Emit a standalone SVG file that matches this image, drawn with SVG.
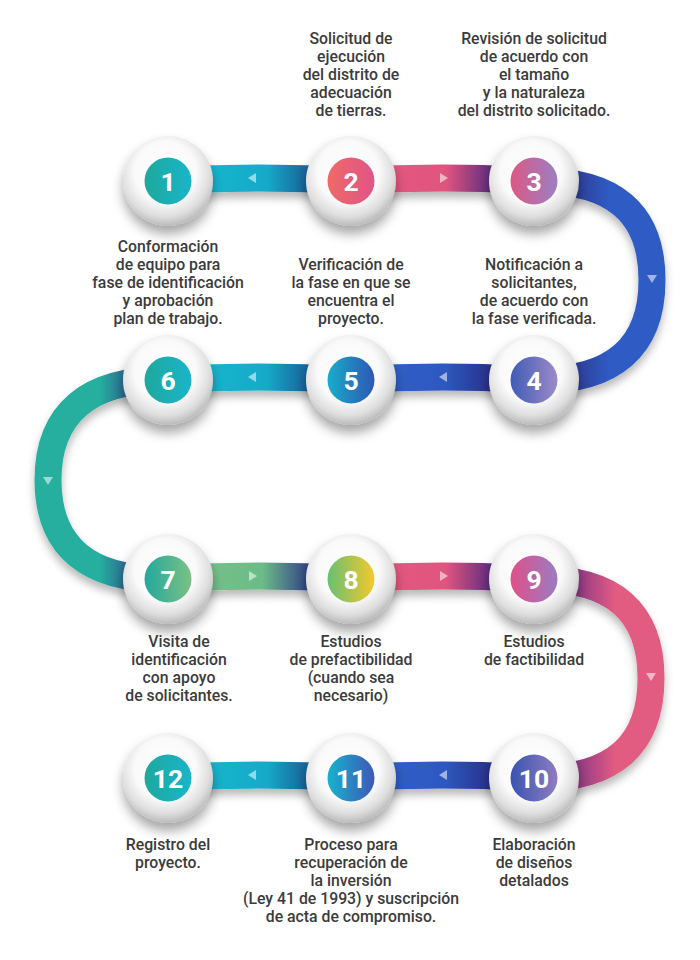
<svg xmlns="http://www.w3.org/2000/svg" width="700" height="960" viewBox="0 0 700 960">
<style>
  .lbl { font-family: Roboto, "Liberation Sans", sans-serif; font-weight: 500; font-size: 15.8px; fill: #3b3b3b; text-anchor: middle; }
  .num { font-family: Roboto, "Liberation Sans", sans-serif; font-weight: 700; font-size: 26.5px; fill: #ffffff; text-anchor: middle; }
  .band { fill: none; stroke-width: 27; filter: url(#bandShadow); }
  .sphere { fill: url(#sphereGrad); filter: url(#sphereShadow); }
  .arr { fill: #ffffff; fill-opacity: 0.55; }
</style>
<defs>
  <filter id="bandShadow" filterUnits="userSpaceOnUse" x="0" y="0" width="700" height="960">
    <feDropShadow dx="0" dy="6" stdDeviation="4" flood-color="#000" flood-opacity="0.28"/>
  </filter>
  <filter id="sphereShadow" x="-40%" y="-40%" width="180%" height="190%">
    <feDropShadow dx="0" dy="8" stdDeviation="6" flood-color="#000" flood-opacity="0.35"/>
  </filter>
  <radialGradient id="sphereGrad" cx="0.47" cy="0.4" r="0.62">
    <stop offset="0" stop-color="#ffffff"/>
    <stop offset="0.55" stop-color="#fafafa"/>
    <stop offset="0.8" stop-color="#dedede"/>
    <stop offset="1" stop-color="#b4b4b4"/>
  </radialGradient>
  <linearGradient id="bCyanA" gradientUnits="userSpaceOnUse" x1="213" y1="0" x2="312" y2="0">
    <stop offset="0" stop-color="#17b4cc"/><stop offset="0.55" stop-color="#14a9c9"/><stop offset="1" stop-color="#1b5a93"/>
  </linearGradient>
  <linearGradient id="bPinkA" gradientUnits="userSpaceOnUse" x1="396" y1="0" x2="495" y2="0">
    <stop offset="0" stop-color="#e3577f"/><stop offset="0.5" stop-color="#e0557f"/><stop offset="1" stop-color="#55297f"/>
  </linearGradient>
  <linearGradient id="bBlueA" gradientUnits="userSpaceOnUse" x1="396" y1="0" x2="495" y2="0">
    <stop offset="0" stop-color="#2f5ec6"/><stop offset="0.5" stop-color="#2d58c0"/><stop offset="1" stop-color="#2b2d84"/>
  </linearGradient>
  <linearGradient id="bGreenA" gradientUnits="userSpaceOnUse" x1="213" y1="0" x2="312" y2="0">
    <stop offset="0" stop-color="#74c08a"/><stop offset="0.5" stop-color="#6cbb88"/><stop offset="1" stop-color="#2e3a86"/>
  </linearGradient>
  <linearGradient id="cBlue" gradientUnits="userSpaceOnUse" x1="560" y1="0" x2="610" y2="0">
    <stop offset="0" stop-color="#2c3187"/><stop offset="1" stop-color="#2e5cc4"/>
  </linearGradient>
  <linearGradient id="cTeal" gradientUnits="userSpaceOnUse" x1="145" y1="0" x2="100" y2="0">
    <stop offset="0" stop-color="#2e3b8a"/><stop offset="1" stop-color="#27ae9f"/>
  </linearGradient>
  <linearGradient id="cPink" gradientUnits="userSpaceOnUse" x1="560" y1="0" x2="615" y2="0">
    <stop offset="0" stop-color="#6a2b86"/><stop offset="1" stop-color="#e25b82"/>
  </linearGradient>
  <linearGradient id="n1" x1="0" y1="0" x2="1" y2="0"><stop offset="0" stop-color="#1ea89c"/><stop offset="1" stop-color="#1ab5ca"/></linearGradient>
  <linearGradient id="n2" x1="0" y1="0" x2="1" y2="0"><stop offset="0" stop-color="#ee6a66"/><stop offset="1" stop-color="#e05488"/></linearGradient>
  <linearGradient id="n3" x1="0" y1="0" x2="1" y2="0"><stop offset="0" stop-color="#dc5884"/><stop offset="1" stop-color="#9a80c4"/></linearGradient>
  <linearGradient id="n4" x1="0" y1="0" x2="1" y2="0"><stop offset="0" stop-color="#3f5cb6"/><stop offset="1" stop-color="#9c8ac8"/></linearGradient>
  <linearGradient id="n5" x1="0" y1="0" x2="1" y2="0"><stop offset="0" stop-color="#19acc9"/><stop offset="1" stop-color="#2f56b6"/></linearGradient>
  <linearGradient id="n7" x1="0" y1="0" x2="1" y2="0"><stop offset="0" stop-color="#22a89e"/><stop offset="1" stop-color="#7cc183"/></linearGradient>
  <linearGradient id="n8" x1="0" y1="0" x2="1" y2="0"><stop offset="0" stop-color="#68bf72"/><stop offset="1" stop-color="#f3c92c"/></linearGradient>
  <linearGradient id="n9" x1="0" y1="0" x2="1" y2="0"><stop offset="0" stop-color="#e0508a"/><stop offset="1" stop-color="#9a7cc2"/></linearGradient>
  <linearGradient id="n10" x1="0" y1="0" x2="1" y2="0"><stop offset="0" stop-color="#3a54b0"/><stop offset="1" stop-color="#8e7cc2"/></linearGradient>
  <linearGradient id="n11" x1="0" y1="0" x2="1" y2="0"><stop offset="0" stop-color="#18b2cd"/><stop offset="1" stop-color="#3e58b6"/></linearGradient>
</defs>

<rect width="700" height="960" fill="#ffffff"/>

<g id="connectors">
  <path class="band" stroke="url(#bCyanA)" d="M168,181 Q259.5,175 351,181"/>
  <path class="band" stroke="url(#bPinkA)" d="M351,181 Q442.5,175 534,181"/>
  <path class="band" stroke="url(#cBlue)" d="M540,181 C612,181 652,212 652,280 C652,348 612,380 540,380"/>
  <path class="band" stroke="url(#bBlueA)" d="M351,380 Q442.5,374 534,380"/>
  <path class="band" stroke="url(#bCyanA)" d="M168,380 Q259.5,374 351,380"/>
  <path class="band" stroke="url(#cTeal)" d="M162,380 C90,380 48,412 48,480 C48,548 90,579 162,579"/>
  <path class="band" stroke="url(#bGreenA)" d="M168,579 Q259.5,573 351,579"/>
  <path class="band" stroke="url(#bPinkA)" d="M351,579 Q442.5,573 534,579"/>
  <path class="band" stroke="url(#cPink)" d="M540,579 C612,579 651,611 651,678 C651,746 612,778 540,778"/>
  <path class="band" stroke="url(#bBlueA)" d="M351,778 Q442.5,772 534,778"/>
  <path class="band" stroke="url(#bCyanA)" d="M168,778 Q259.5,772 351,778"/>
  <polygon class="arr" points="248,178 256,173 256,183"/>
  <polygon class="arr" points="448,178 440,173 440,183"/>
  <polygon class="arr" points="647,275 657,275 652,283"/>
  <polygon class="arr" points="439,377 447,372 447,382"/>
  <polygon class="arr" points="248,377 256,372 256,382"/>
  <polygon class="arr" points="43,477 53,477 48,485"/>
  <polygon class="arr" points="257,576 249,571 249,581"/>
  <polygon class="arr" points="448,576 440,571 440,581"/>
  <polygon class="arr" points="646,673 656,673 651,681"/>
  <polygon class="arr" points="439,775 447,770 447,780"/>
  <polygon class="arr" points="248,775 256,770 256,780"/>
</g>

<g id="node-1">
  <circle class="sphere" cx="168" cy="181" r="45"/>
  <circle cx="168" cy="181" r="23.5" fill="url(#n1)"/>
  <text class="num" x="168" y="190.5">1</text>
</g>
<g id="node-2">
  <circle class="sphere" cx="351" cy="181" r="45"/>
  <circle cx="351" cy="181" r="23.5" fill="url(#n2)"/>
  <text class="num" x="351" y="190.5">2</text>
  <text class="lbl" x="351" y="44">Solicitud de</text>
  <text class="lbl" x="351" y="62">ejecución</text>
  <text class="lbl" x="351" y="80">del distrito de</text>
  <text class="lbl" x="351" y="98">adecuación</text>
  <text class="lbl" x="351" y="116">de tierras.</text>
</g>
<g id="node-3">
  <circle class="sphere" cx="534" cy="181" r="45"/>
  <circle cx="534" cy="181" r="23.5" fill="url(#n3)"/>
  <text class="num" x="534" y="190.5">3</text>
  <text class="lbl" x="534" y="44">Revisión de solicitud</text>
  <text class="lbl" x="534" y="62">de acuerdo con</text>
  <text class="lbl" x="534" y="80">el tamaño</text>
  <text class="lbl" x="534" y="98">y la naturaleza</text>
  <text class="lbl" x="534" y="116">del distrito solicitado.</text>
</g>
<g id="node-4">
  <circle class="sphere" cx="534" cy="380" r="45"/>
  <circle cx="534" cy="380" r="23.5" fill="url(#n4)"/>
  <text class="num" x="534" y="389.5">4</text>
  <text class="lbl" x="534" y="270">Notificación a</text>
  <text class="lbl" x="534" y="288">solicitantes,</text>
  <text class="lbl" x="534" y="306">de acuerdo con</text>
  <text class="lbl" x="534" y="324">la fase verificada.</text>
</g>
<g id="node-5">
  <circle class="sphere" cx="351" cy="380" r="45"/>
  <circle cx="351" cy="380" r="23.5" fill="url(#n5)"/>
  <text class="num" x="351" y="389.5">5</text>
  <text class="lbl" x="351" y="270">Verificación de</text>
  <text class="lbl" x="351" y="288">la fase en que se</text>
  <text class="lbl" x="351" y="306">encuentra el</text>
  <text class="lbl" x="351" y="324">proyecto.</text>
</g>
<g id="node-6">
  <circle class="sphere" cx="168" cy="380" r="45"/>
  <circle cx="168" cy="380" r="23.5" fill="url(#n1)"/>
  <text class="num" x="168" y="389.5">6</text>
  <text class="lbl" x="168" y="252">Conformación</text>
  <text class="lbl" x="168" y="270">de equipo para</text>
  <text class="lbl" x="168" y="288">fase de identificación</text>
  <text class="lbl" x="168" y="306">y aprobación</text>
  <text class="lbl" x="168" y="324">plan de trabajo.</text>
</g>
<g id="node-7">
  <circle class="sphere" cx="168" cy="579" r="45"/>
  <circle cx="168" cy="579" r="23.5" fill="url(#n7)"/>
  <text class="num" x="168" y="588.5">7</text>
  <text class="lbl" x="179" y="647">Visita de</text>
  <text class="lbl" x="179" y="665">identificación</text>
  <text class="lbl" x="179" y="683">con apoyo</text>
  <text class="lbl" x="179" y="701">de solicitantes.</text>
</g>
<g id="node-8">
  <circle class="sphere" cx="351" cy="579" r="45"/>
  <circle cx="351" cy="579" r="23.5" fill="url(#n8)"/>
  <text class="num" x="351" y="588.5">8</text>
  <text class="lbl" x="351" y="647">Estudios</text>
  <text class="lbl" x="351" y="665">de prefactibilidad</text>
  <text class="lbl" x="351" y="683">(cuando sea</text>
  <text class="lbl" x="351" y="701">necesario)</text>
</g>
<g id="node-9">
  <circle class="sphere" cx="534" cy="579" r="45"/>
  <circle cx="534" cy="579" r="23.5" fill="url(#n9)"/>
  <text class="num" x="534" y="588.5">9</text>
  <text class="lbl" x="534" y="647">Estudios</text>
  <text class="lbl" x="534" y="665">de factibilidad</text>
</g>
<g id="node-10">
  <circle class="sphere" cx="534" cy="778" r="45"/>
  <circle cx="534" cy="778" r="23.5" fill="url(#n10)"/>
  <text class="num" x="534" y="787.5">10</text>
  <text class="lbl" x="534" y="850">Elaboración</text>
  <text class="lbl" x="534" y="868">de diseños</text>
  <text class="lbl" x="534" y="886">detalados</text>
</g>
<g id="node-11">
  <circle class="sphere" cx="351" cy="778" r="45"/>
  <circle cx="351" cy="778" r="23.5" fill="url(#n11)"/>
  <text class="num" x="351" y="787.5">11</text>
  <text class="lbl" x="351" y="850">Proceso para</text>
  <text class="lbl" x="351" y="868">recuperación de</text>
  <text class="lbl" x="351" y="886">la inversión</text>
  <text class="lbl" x="351" y="904">(Ley 41 de 1993) y suscripción</text>
  <text class="lbl" x="351" y="922">de acta de compromiso.</text>
</g>
<g id="node-12">
  <circle class="sphere" cx="168" cy="778" r="45"/>
  <circle cx="168" cy="778" r="23.5" fill="url(#n1)"/>
  <text class="num" x="168" y="787.5">12</text>
  <text class="lbl" x="168" y="850">Registro del</text>
  <text class="lbl" x="168" y="868">proyecto.</text>
</g>
</svg>
